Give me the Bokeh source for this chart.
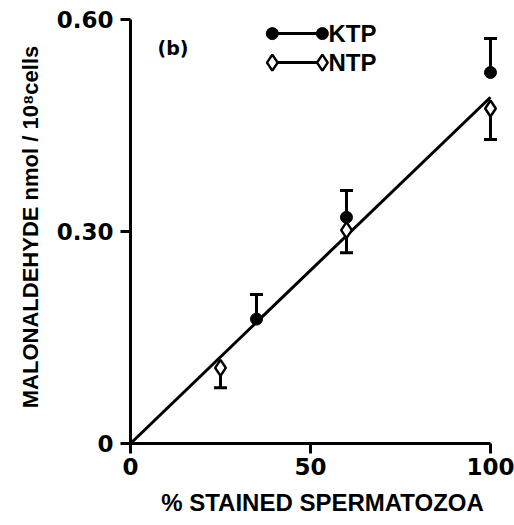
from bokeh.plotting import figure
from bokeh.models import Range1d, FixedTicker
from bokeh.core.properties import value
from bokeh.embed import file_html
from bokeh.resources import INLINE

# ---- data ----
ktp_x = [35, 60, 100]
ktp_y = [0.176, 0.320, 0.525]
ktp_err = [0.035, 0.038, 0.048]      # upper error bars
ntp_x = [25, 60, 100]
ntp_y = [0.107, 0.302, 0.474]
ntp_err = [0.028, 0.032, 0.044]      # lower error bars
fit_x = [0, 100]
fit_y = [0.0, 0.49]
x_ticks = [0, 50, 100]
x_labels = ["0", "50", "100"]
y_ticks = [0, 0.3, 0.6]
y_labels = ["0", "0.30", "0.60"]
series_names = ["KTP", "NTP"]
panel_label = "(b)"

TICK_FONT = "DejaVu Sans"
LABEL_FONT = "Liberation Sans"

p = figure(width=514, height=524, output_backend="svg", toolbar_location=None,
           x_range=Range1d(0, 106.67), y_range=Range1d(0, 0.6127),
           min_border_left=130, min_border_top=10, min_border_right=0,
           min_border_bottom=81)
p.outline_line_color = None
p.grid.grid_line_color = None
p.background_fill_color = "white"

for ax in (p.xaxis[0], p.yaxis[0]):
    ax.axis_line_width = 3
    ax.axis_line_color = "black"
    ax.major_tick_line_width = 3
    ax.major_tick_line_color = "black"
    ax.major_tick_in = 0
    ax.major_tick_out = 10
    ax.minor_tick_line_color = None
    ax.major_label_text_font = TICK_FONT
    ax.major_label_text_font_style = "bold"
    ax.major_label_text_font_size = "23px"
    ax.major_label_text_color = "black"
    ax.axis_label_text_font = LABEL_FONT
    ax.axis_label_text_font_style = "bold"
    ax.axis_label_text_color = "black"

xa = p.xaxis[0]
xa.bounds = (0, 100)
xa.ticker = FixedTicker(ticks=x_ticks)
xa.major_label_overrides = {t: l for t, l in zip(x_ticks, x_labels)}
xa.axis_label = "% STAINED SPERMATOZOA"
xa.axis_label_text_font_size = "24px"
xa.major_label_standoff = 4
xa.axis_label_standoff = 11

ya = p.yaxis[0]
ya.bounds = (0, 0.6)
ya.ticker = FixedTicker(ticks=y_ticks)
ya.major_label_overrides = {t: l for t, l in zip(y_ticks, y_labels)}
ya.axis_label = "MALONALDEHYDE nmol / 10\u2078cells"
ya.axis_label_text_font_size = "22px"
ya.major_label_standoff = 7
ya.axis_label_standoff = 11

# regression line
p.line(fit_x, fit_y, line_width=3, line_color="black")

# error bars
ktp_top = [y + e for y, e in zip(ktp_y, ktp_err)]
ntp_bot = [y - e for y, e in zip(ntp_y, ntp_err)]
p.segment(x0=ktp_x, y0=ktp_y, x1=ktp_x, y1=ktp_top, line_width=3, line_color="black")
p.scatter(x=ktp_x, y=ktp_top, marker="dash", size=13, line_width=3, line_color="black")
p.segment(x0=ntp_x, y0=ntp_y, x1=ntp_x, y1=ntp_bot, line_width=3, line_color="black")
p.scatter(x=ntp_x, y=ntp_bot, marker="dash", size=13, line_width=3, line_color="black")

# markers
p.scatter(x=ktp_x, y=ktp_y, marker="circle", size=12, fill_color="black", line_color="black")
p.scatter(x=ntp_x, y=ntp_y, marker="diamond", size=16, fill_color="white",
          line_color="black", line_width=2.5)

# legend (hand-drawn, as in the reference)
lx0, lx1, ltx = 39.4, 53.3, 55.0
ly = [0.580, 0.539]
p.segment(x0=[lx0, lx0], y0=ly, x1=[lx1, lx1], y1=ly, line_width=3, line_color="black")
p.scatter(x=[lx0, lx1], y=[ly[0], ly[0]], marker="circle", size=12,
          fill_color="black", line_color="black")
p.scatter(x=[lx0, lx1], y=[ly[1], ly[1]], marker="diamond", size=16,
          fill_color="white", line_color="black", line_width=2.5)
p.text(x=[ltx, ltx], y=ly, text=series_names, text_font=value(LABEL_FONT),
       text_font_style="bold", text_font_size="24px", text_baseline="middle",
       text_align="left", text_color="black")

# panel label
p.text(x=[7.5], y=[0.56], text=[panel_label], text_font=value(TICK_FONT),
       text_font_style="bold", text_font_size="19px", text_baseline="middle",
       text_align="left", text_color="black")

open("out.html", "w").write(file_html(p, INLINE))
